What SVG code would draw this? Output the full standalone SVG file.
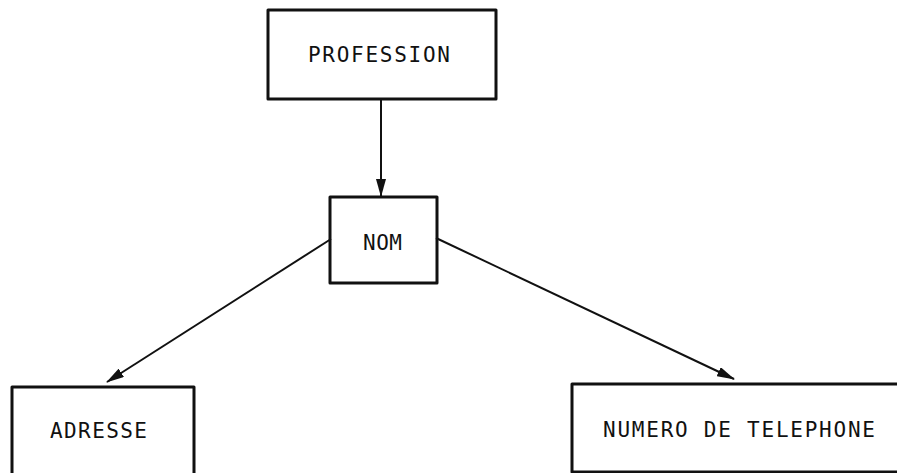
<svg xmlns="http://www.w3.org/2000/svg" width="897" height="473" viewBox="0 0 897 473">
  <style>
    .box { fill: none; stroke: #111; stroke-width: 3; stroke-linejoin: round; }
    .lbl { font-family: "DejaVu Sans Mono", "Liberation Mono", monospace; font-size: 21px; fill: #111; }
    .edge { stroke: #111; stroke-width: 2; fill: none; marker-end: url(#head); }
  </style>
  <defs>
    <marker id="head" markerWidth="18" markerHeight="10" refX="17" refY="5" orient="auto" markerUnits="userSpaceOnUse">
      <path d="M0,0 L18,5 L0,10 Z" fill="#111"/>
    </marker>
  </defs>
  <rect width="897" height="473" fill="#fff"/>

  <g id="connectors">
    <line class="edge" x1="381" y1="100" x2="381" y2="196"/>
    <line class="edge" x1="331" y1="239" x2="107" y2="382"/>
    <line class="edge" x1="436" y1="238" x2="734" y2="379"/>
  </g>

  <g id="profession">
    <rect class="box" x="268" y="10" width="228" height="89"/>
    <text class="lbl" x="308" y="62" textLength="142" lengthAdjust="spacing">PROFESSION</text>
  </g>

  <g id="nom">
    <rect class="box" x="330" y="197" width="107" height="86"/>
    <text class="lbl" x="363" y="250" textLength="39" lengthAdjust="spacing">NOM</text>
  </g>

  <g id="adresse">
    <rect class="box" x="12" y="387" width="182" height="100"/>
    <text class="lbl" x="50" y="438" textLength="97" lengthAdjust="spacing">ADRESSE</text>
  </g>

  <g id="telephone">
    <rect class="box" x="572" y="384" width="340" height="88"/>
    <text class="lbl" x="603" y="437" textLength="272" lengthAdjust="spacing">NUMERO DE TELEPHONE</text>
  </g>
</svg>
